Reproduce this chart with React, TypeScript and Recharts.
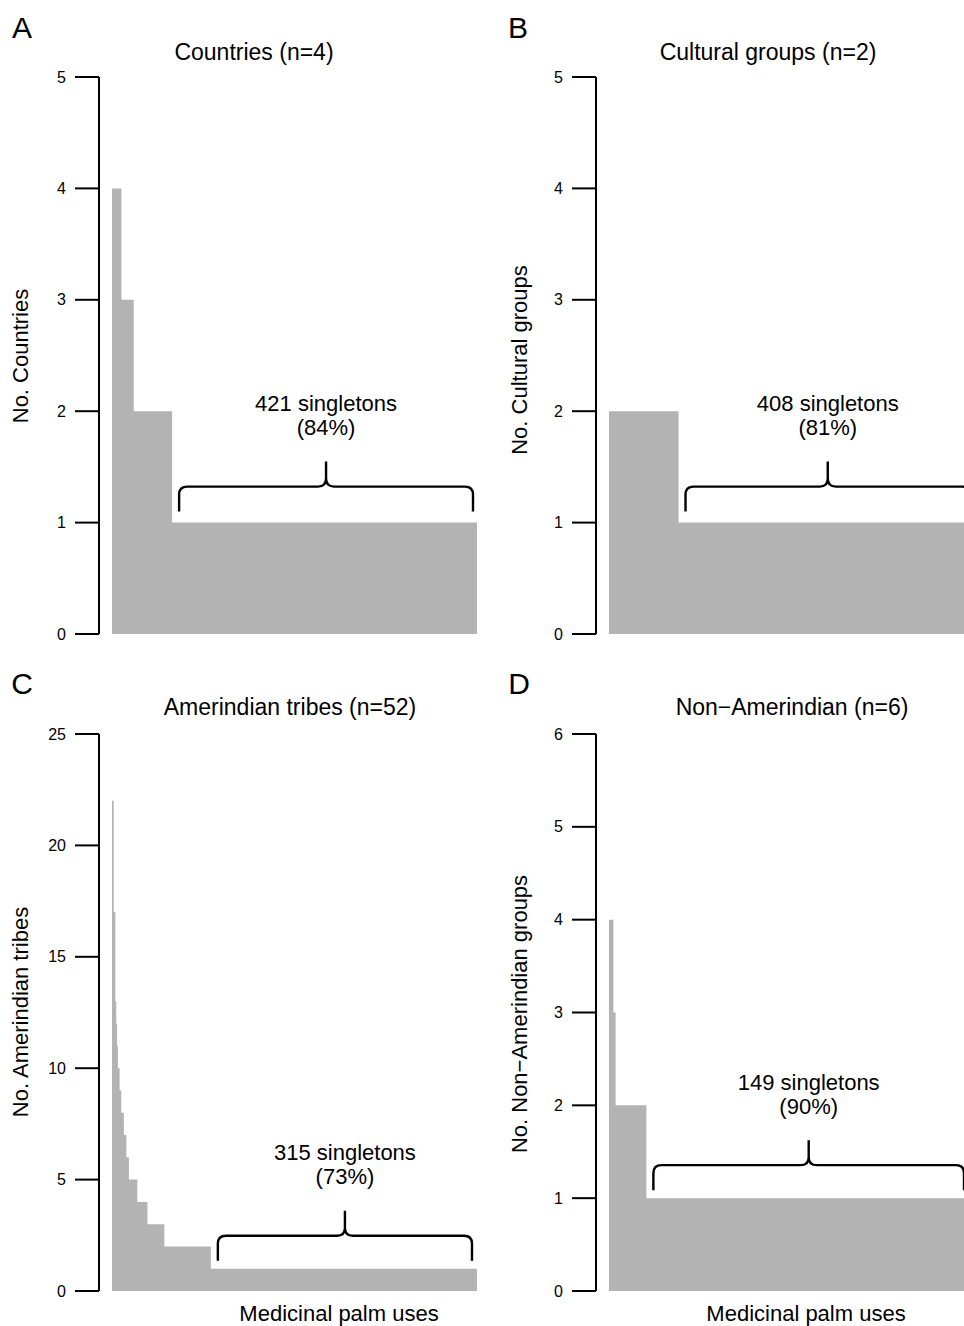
import React from "react";
import { AreaChart, Area, XAxis, YAxis, ReferenceLine } from "recharts";

// ---------------------------------------------------------------------------
// Data: for each panel, the number of groups citing a use (value) and how many
// medicinal uses share that value (uses), in rank order.
// ---------------------------------------------------------------------------

const countryValues = [4, 3, 2, 1];
const countryUses = [13, 17, 53, 421];

const culturalValues = [2, 1];
const culturalUses = [96, 408];

const tribeValues = [22, 17, 13, 12, 11, 10, 9, 8, 7, 6, 5, 4, 3, 2, 1];
const tribeUses = [2, 2, 1, 1, 1, 2, 2, 3, 3, 3, 10, 12, 20, 55, 315];

const nonAmValues = [4, 3, 2, 1];
const nonAmUses = [2, 1, 14, 149];

const ticksFive = [0, 1, 2, 3, 4, 5];
const ticksTribes = [0, 5, 10, 15, 20, 25];
const ticksSix = [0, 1, 2, 3, 4, 5, 6];

const singletonLabels = ["421 singletons", "408 singletons", "315 singletons", "149 singletons"];
const singletonPcts = ["(84%)", "(81%)", "(73%)", "(90%)"];

const FONT = "'Liberation Sans', Arial, Helvetica, sans-serif";
const GREY = "#b3b3b3";

function toSteps(values: number[], uses: number[]) {
  let x = 0;
  const pts = values.map((v, i) => {
    const p = { x, count: v };
    x += uses[i];
    return p;
  });
  pts.push({ x, count: values[values.length - 1] });
  return pts;
}

// y tick label, R style (horizontal, right aligned before the tick)
function YTick(props: any) {
  const { x, y, payload } = props;
  return (
    <text x={x} y={y} textAnchor="end" dominantBaseline="central" fontSize={16} fill="#000">
      {payload.value}
    </text>
  );
}

// brace drawn above the singleton run; endpoints come from the chart scales
function makeBrace(line1: string, line2: string, lift: number, insetL: number, insetR: number) {
  return (props: any) => {
    const { x1, x2, y1 } = props;
    if (x1 == null || x2 == null || y1 == null) return null;
    const a = x1 + insetL;
    const b = x2 - insetR;
    const m = (a + b) / 2;
    const yb = y1 - 8 - lift;
    const yh = y1 - 33 - lift;
    const yt = y1 - 58 - lift;
    const r = 8;
    const d = [
      `M${a},${yb}`,
      `L${a},${yh + r}`,
      `Q${a},${yh} ${a + r},${yh}`,
      `L${m - r},${yh}`,
      `Q${m},${yh} ${m},${yh - r}`,
      `L${m},${yt}`,
      `M${m},${yh - r}`,
      `Q${m},${yh} ${m + r},${yh}`,
      `L${b - r},${yh}`,
      `Q${b},${yh} ${b},${yh + r}`,
      `L${b},${yb}`,
    ].join(" ");
    return (
      <g>
        <path d={d} fill="none" stroke="#000" strokeWidth={2.4} />
        <text x={m} y={y1 - 116 - lift} textAnchor="middle" dominantBaseline="central" fontSize={22} fill="#000">
          {line1}
        </text>
        <text x={m} y={y1 - 92 - lift} textAnchor="middle" dominantBaseline="central" fontSize={22} fill="#000">
          {line2}
        </text>
      </g>
    );
  };
}

interface PanelProps {
  axisX: number;
  plotTop: number;
  plotHeight: number;
  values: number[];
  uses: number[];
  ticks: number[];
  label1: string;
  label2: string;
  lift: number;
  insetR: number;
}

function Panel({ axisX, plotTop, plotHeight, values, uses, ticks, label1, label2, lift, insetR }: PanelProps) {
  const data = toSteps(values, uses);
  const total = uses.reduce((s, u) => s + u, 0);
  const singleStart = total - uses[uses.length - 1];
  const yMax = ticks[ticks.length - 1];
  const yAxisW = 99;
  const padL = 13;
  const dataW = 365;
  const width = yAxisW + padL + dataW;
  const mTop = 12;
  const mBottom = 12;
  return (
    <div style={{ position: "absolute", left: axisX - yAxisW, top: plotTop - mTop }}>
      <AreaChart
        width={width}
        height={plotHeight + mTop + mBottom}
        data={data}
        margin={{ top: mTop, right: 0, bottom: mBottom, left: 0 }}
      >
        <XAxis
          type="number"
          dataKey="x"
          domain={[0, total]}
          hide
          padding={{ left: padL, right: 0 }}
        />
        <YAxis
          type="number"
          domain={[0, yMax]}
          ticks={ticks}
          interval={0}
          width={yAxisW}
          tickSize={24}
          tickMargin={9}
          tick={<YTick />}
          tickLine={{ stroke: "#000", strokeWidth: 2 }}
          axisLine={{ stroke: "#000", strokeWidth: 2 }}
        />
        <Area
          type="stepAfter"
          dataKey="count"
          stroke="none"
          fill={GREY}
          fillOpacity={1}
          dot={false}
          activeDot={false}
          isAnimationActive={false}
        />
        <ReferenceLine
          segment={[
            { x: singleStart, y: 1 },
            { x: total, y: 1 },
          ]}
          shape={makeBrace(label1, label2, lift, 7, insetR)}
        />
      </AreaChart>
    </div>
  );
}

function Txt({ x, y, size, children, rotate }: { x: number; y: number; size: number; children: React.ReactNode; rotate?: boolean }) {
  return (
    <div
      style={{
        position: "absolute",
        left: x,
        top: y,
        fontSize: size,
        lineHeight: 1,
        whiteSpace: "nowrap",
        transform: `translate(-50%, -50%)${rotate ? " rotate(-90deg)" : ""}`,
      }}
    >
      {children}
    </div>
  );
}

export default function App() {
  return (
    <div
      style={{
        position: "absolute",
        left: 0,
        top: 0,
        width: 964,
        height: 1326,
        overflow: "hidden",
        background: "#fff",
        fontFamily: FONT,
        color: "#000",
      }}
    >
      <Panel axisX={99} plotTop={77} plotHeight={557} values={countryValues} uses={countryUses} ticks={ticksFive}
        label1={singletonLabels[0]} label2={singletonPcts[0]} lift={3} insetR={4} />
      <Panel axisX={596} plotTop={77} plotHeight={557} values={culturalValues} uses={culturalUses} ticks={ticksFive}
        label1={singletonLabels[1]} label2={singletonPcts[1]} lift={3} insetR={4} />
      <Panel axisX={99} plotTop={734} plotHeight={557} values={tribeValues} uses={tribeUses} ticks={ticksTribes}
        label1={singletonLabels[2]} label2={singletonPcts[2]} lift={0} insetR={5} />
      <Panel axisX={596} plotTop={734} plotHeight={557} values={nonAmValues} uses={nonAmUses} ticks={ticksSix}
        label1={singletonLabels[3]} label2={singletonPcts[3]} lift={0} insetR={10} />

      <Txt x={22} y={28} size={30}>A</Txt>
      <Txt x={518} y={28} size={30}>B</Txt>
      <Txt x={22} y={684} size={30}>C</Txt>
      <Txt x={519} y={684} size={30}>D</Txt>

      <Txt x={254} y={52} size={23}>Countries (n=4)</Txt>
      <Txt x={768} y={52} size={23}>Cultural groups (n=2)</Txt>
      <Txt x={290} y={707} size={23}>Amerindian tribes (n=52)</Txt>
      <Txt x={792} y={707} size={23}>Non−Amerindian (n=6)</Txt>

      <Txt x={21} y={356} size={22} rotate>No. Countries</Txt>
      <Txt x={520} y={360} size={22} rotate>No. Cultural groups</Txt>
      <Txt x={21} y={1012} size={22} rotate>No. Amerindian tribes</Txt>
      <Txt x={520} y={1014} size={22} rotate>No. Non−Amerindian groups</Txt>

      <Txt x={339} y={1314} size={22}>Medicinal palm uses</Txt>
      <Txt x={806} y={1314} size={22}>Medicinal palm uses</Txt>
    </div>
  );
}
